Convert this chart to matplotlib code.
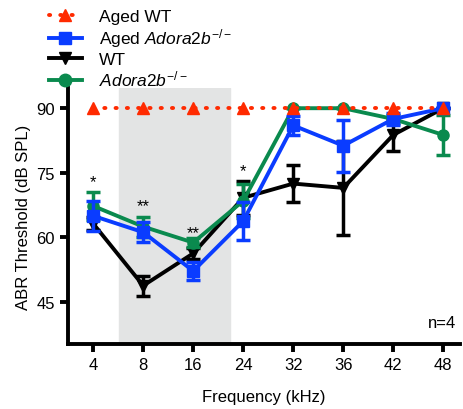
import matplotlib
matplotlib.use("Agg")
import matplotlib.pyplot as plt
from matplotlib.lines import Line2D

plt.rcParams['font.family'] = ['Liberation Sans', 'DejaVu Sans']
plt.rcParams['mathtext.fontset'] = 'custom'
plt.rcParams['mathtext.rm'] = 'Liberation Sans'
plt.rcParams['mathtext.it'] = 'Liberation Sans:italic'

freqs = ["4", "8", "16", "24", "32", "36", "42", "48"]

aged_wt = [90, 90, 90, 90, 90, 90, 90, 90]

aged_ko = [65, 61.2, 52.2, 63.8, 86, 81.3, 87.5, 90]
aged_ko_err = [3.5, 2.3, 2.0, 4.5, 2.3, 6.0, 1.5, 0]

wt = [63.2, 48.8, 56.3, 69.2, 72.5, 71.5, 83.8, 90]
wt_err = [1.5, 2.3, 1.2, 4.0, 4.2, 11.0, 3.7, 0]

ko = [67.3, 62.5, 58.8, 68.5, 90, 90, 87.5, 83.8]
ko_err = [3.3, 2.3, 1.0, 4.0, 0, 0, 1.0, 4.7]

stars = ["*", "**", "**", "*"]
star_y = [71.2, 65.7, 59.3, 73.8]

x = list(range(len(freqs)))

fig = plt.figure(figsize=(4.64, 4.10), dpi=100)
ax = fig.add_axes([0.147, 0.158, 0.845, 0.625])

ax.axvspan(0.52, 2.74, color="#e3e4e4", zorder=0)

err_kw = dict(capsize=5, capthick=2.5, elinewidth=2.5, lw=2.8, ms=8)
ax.errorbar(x, wt, yerr=wt_err, color="black", marker="v", zorder=2, **err_kw)
ax.errorbar(x, ko, yerr=ko_err, color="#0a8a4e", marker="o", zorder=3, **err_kw)
ax.errorbar(x, aged_ko, yerr=aged_ko_err, color="#0a3cff", marker="s", zorder=4, **err_kw)
ax.plot(x, aged_wt, color="#ff2a00", marker="^", ms=8, lw=2.8, ls=(0, (0.3, 2.6)),
        dash_capstyle="round", zorder=5)

for i, s in enumerate(stars):
    ax.text(i, star_y[i], s, ha="center", va="bottom", fontsize=12)

ax.text(0.99, 0.055, "n=4", transform=ax.transAxes, ha="right", va="bottom", fontsize=12)

ax.set_xlim(-0.5, 7.34)
ax.set_ylim(35.2, 94.7)
ax.set_yticks([45, 60, 75, 90])
ax.set_xticks(x)
ax.set_xticklabels(freqs)
ax.tick_params(width=2.8, length=6, labelsize=12)
for sp in ["top", "right"]:
    ax.spines[sp].set_visible(False)
for sp in ["left", "bottom"]:
    ax.spines[sp].set_linewidth(2.8)
ax.set_xlabel("Frequency (kHz)", fontsize=12, labelpad=12)
ax.set_ylabel("ABR Threshold (dB SPL)", fontsize=12, labelpad=4)

handles = [
    Line2D([], [], color="#ff2a00", marker="^", ms=9, lw=2.8, ls=(0, (0.3, 2.6)), dash_capstyle="round"),
    Line2D([], [], color="#0a3cff", marker="s", ms=9, lw=2.8),
    Line2D([], [], color="black", marker="v", ms=9, lw=2.8),
    Line2D([], [], color="#0a8a4e", marker="o", ms=9, lw=2.8),
]
labels = ["Aged WT", r"Aged $\mathit{Adora2b}^{-/-}$", "WT", r"$\mathit{Adora2b}^{-/-}$"]
fig.legend(handles, labels, loc="upper left", bbox_to_anchor=(0.105, 0.975), frameon=False,
           fontsize=12.5, handlelength=1.9, labelspacing=0.12, handletextpad=1.0,
           borderpad=0, borderaxespad=0)

fig.savefig("out.png", dpi=100)
